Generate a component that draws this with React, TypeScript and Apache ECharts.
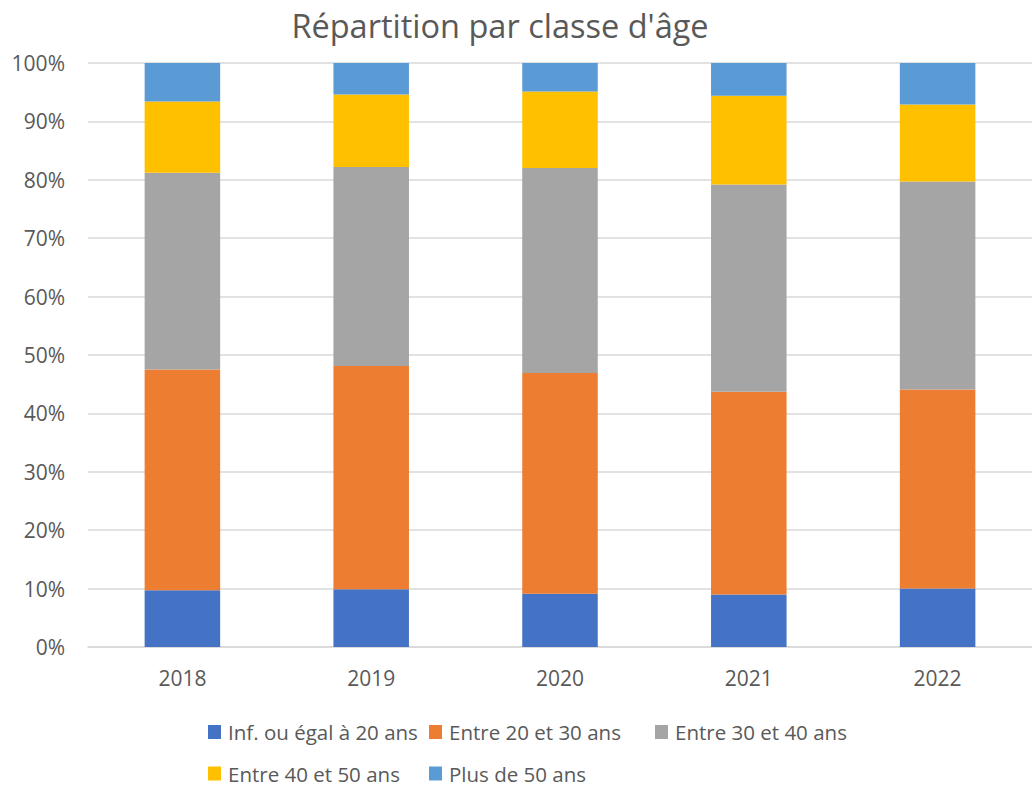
import React, { useEffect, useRef } from "react";
import * as echarts from "echarts";

const title = "Répartition par classe d'âge";
const years = ["2018", "2019", "2020", "2021", "2022"];
const seriesNames = [
  "Inf. ou égal à 20 ans",
  "Entre 20 et 30 ans",
  "Entre 30 et 40 ans",
  "Entre 40 et 50 ans",
  "Plus de 50 ans",
];
const under20 = [9.7, 9.9, 9.1, 9.0, 10.0];
const from20to30 = [37.8, 38.2, 37.8, 34.7, 34.1];
const from30to40 = [33.7, 34.1, 35.1, 35.5, 35.6];
const from40to50 = [12.2, 12.4, 13.1, 15.2, 13.2];
const over50 = [6.6, 5.4, 4.9, 5.6, 7.1];
const colors = ["#4472C4", "#ED7D31", "#A5A5A5", "#FFC000", "#5B9BD5"];

const FONT = "'Open Sans', 'Noto Sans', sans-serif";
const TEXT = "#595959";

export default function App() {
  const ref = useRef<HTMLDivElement>(null);
  useEffect(() => {
    if (!ref.current) return;
    const chart = echarts.init(ref.current, undefined, { renderer: "svg" });
    const values = [under20, from20to30, from30to40, from40to50, over50];
    const legendPos = [
      { left: 208, top: 721.5 },
      { left: 429, top: 721.5 },
      { left: 655, top: 721.5 },
      { left: 208, top: 763 },
      { left: 429, top: 763 },
    ];
    chart.setOption({
      animation: false,
      color: colors,
      textStyle: { fontFamily: FONT },
      graphic: [
        {
          type: "text",
          x: 500,
          y: 25,
          style: {
            text: title,
            fontSize: 32.5,
            fontFamily: FONT,
            fill: TEXT,
            textAlign: "center",
            textVerticalAlign: "middle",
          },
        },
      ],
      legend: seriesNames.map((n, i) => ({
        data: [n],
        left: legendPos[i].left,
        top: legendPos[i].top,
        itemWidth: 13,
        itemHeight: 14,
        itemGap: 0,
        icon: "rect",
        padding: 0,
        textStyle: {
          fontSize: 20.5,
          lineHeight: 20,
          color: TEXT,
          fontFamily: FONT,
          padding: [0, 0, 0, 2],
        },
        selectedMode: false,
      })),
      grid: { left: 88, top: 63, width: 949, height: 584 },
      xAxis: {
        type: "category",
        data: years,
        axisLine: { lineStyle: { color: "#D9D9D9", width: 1.5 } },
        axisTick: { show: false },
        axisLabel: { fontSize: 21, color: TEXT, margin: 20, fontFamily: FONT },
      },
      yAxis: {
        type: "value",
        min: 0,
        max: 100,
        interval: 10,
        axisLine: { show: false },
        axisTick: { show: false },
        axisLabel: {
          fontSize: 21,
          color: TEXT,
          margin: 23,
          fontFamily: FONT,
          formatter: "{value}%",
        },
        splitLine: { lineStyle: { color: "#D9D9D9", width: 1.5 } },
      },
      series: seriesNames.map((n, i) => ({
        name: n,
        type: "bar",
        stack: "total",
        data: values[i],
        barCategoryGap: "60%",
        itemStyle: { color: colors[i] },
      })),
    });
    return () => chart.dispose();
  }, []);
  return (
    <div
      ref={ref}
      style={{ position: "fixed", left: 0, top: 0, width: 1032, height: 788, background: "#fff" }}
    />
  );
}
